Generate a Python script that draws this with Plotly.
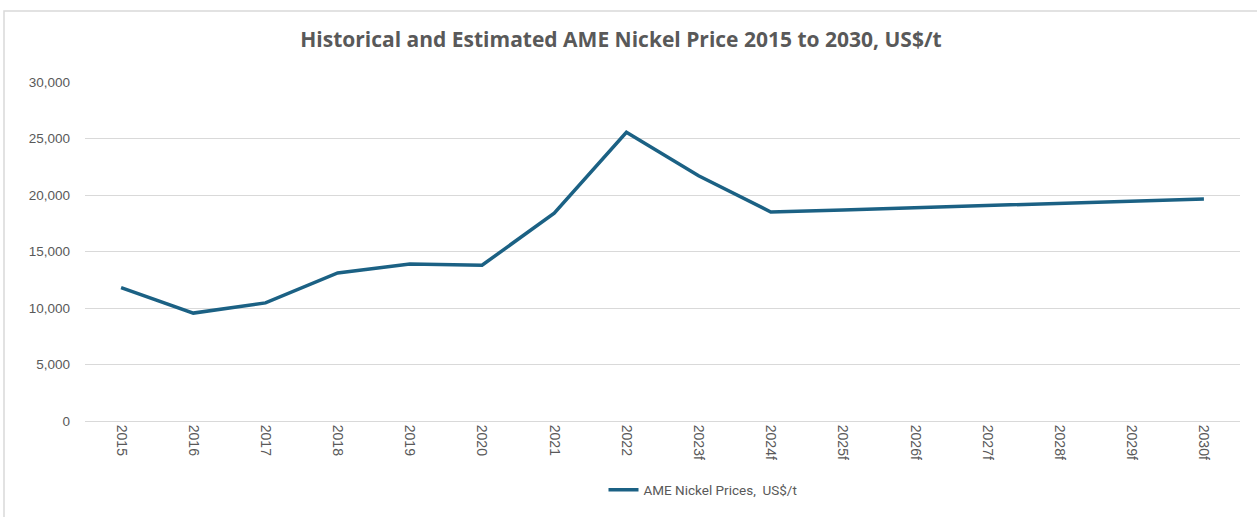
import plotly.graph_objects as go

years = ["2015", "2016", "2017", "2018", "2019", "2020", "2021", "2022",
         "2023f", "2024f", "2025f", "2026f", "2027f", "2028f", "2029f", "2030f"]
prices = [11800, 9550, 10450, 13100, 13900, 13780, 18400, 25550,
          21700, 18500, 18680, 18880, 19070, 19270, 19450, 19650]
y_ticks = [0, 5000, 10000, 15000, 20000, 25000, 30000]
y_labels = ["0", "5,000", "10,000", "15,000", "20,000", "25,000", "30,000"]

W, H = 1257, 517
L, R, T, B = 85, 17, 82, 96
pw, ph = W - L - R, H - T - B

sans = "Roboto, Liberation Sans, Arial, sans-serif"
arial = "Liberation Sans, Arial, sans-serif"

fig = go.Figure()
fig.add_trace(go.Scatter(
    x=list(range(len(years))), y=prices, mode="lines",
    name="AME Nickel Prices,  US$/t",
    line=dict(color="#1b6184", width=3.5),
))

def px_x(p):
    return (p - L) / pw

def px_y(p):
    return (H - B - p) / ph

fig.update_layout(
    width=W, height=H,
    margin=dict(l=L, r=R, t=T, b=B),
    paper_bgcolor="white", plot_bgcolor="white",
    title=dict(text="Historical and Estimated AME Nickel Price 2015 to 2030, US$/t",
               x=621 / W, xanchor="center", y=1 - 40 / H, yanchor="middle",
               font=dict(family="Open Sans, Roboto, sans-serif", size=21, weight="bold",
                         color="#595959")),
    xaxis=dict(tickmode="array", tickvals=list(range(len(years))), ticktext=years,
               range=[-0.5, len(years) - 0.5], tickangle=90,
               showgrid=False, zeroline=False, showline=True,
               linecolor="#d9d9d9", linewidth=1, ticks="",
               tickfont=dict(family=arial, size=14, color="#595959")),
    yaxis=dict(tickmode="array", tickvals=y_ticks, ticktext=y_labels,
               range=[0, 30000], showgrid=True, gridcolor="#d9d9d9", gridwidth=1,
               zeroline=False, showline=False, ticks="", ticklabelstandoff=14,
               tickfont=dict(family=arial, size=13.5, color="#595959")),
    showlegend=True,
    legend=dict(orientation="h", x=px_x(703), xanchor="center", y=px_y(490), yanchor="middle",
                font=dict(family=sans, size=13.5, color="#595959"),
                itemwidth=30, bgcolor="rgba(0,0,0,0)"),
    shapes=[dict(type="rect", xref="paper", yref="paper",
                 x0=px_x(4), x1=px_x(W + 5), y0=px_y(H + 5), y1=px_y(11),
                 line=dict(color="#d9d9d9", width=1.5), fillcolor="rgba(0,0,0,0)", layer="below")],
)

fig.write_html("out.html", config={"displayModeBar": False},
               post_script="document.body.style.margin='0';")
